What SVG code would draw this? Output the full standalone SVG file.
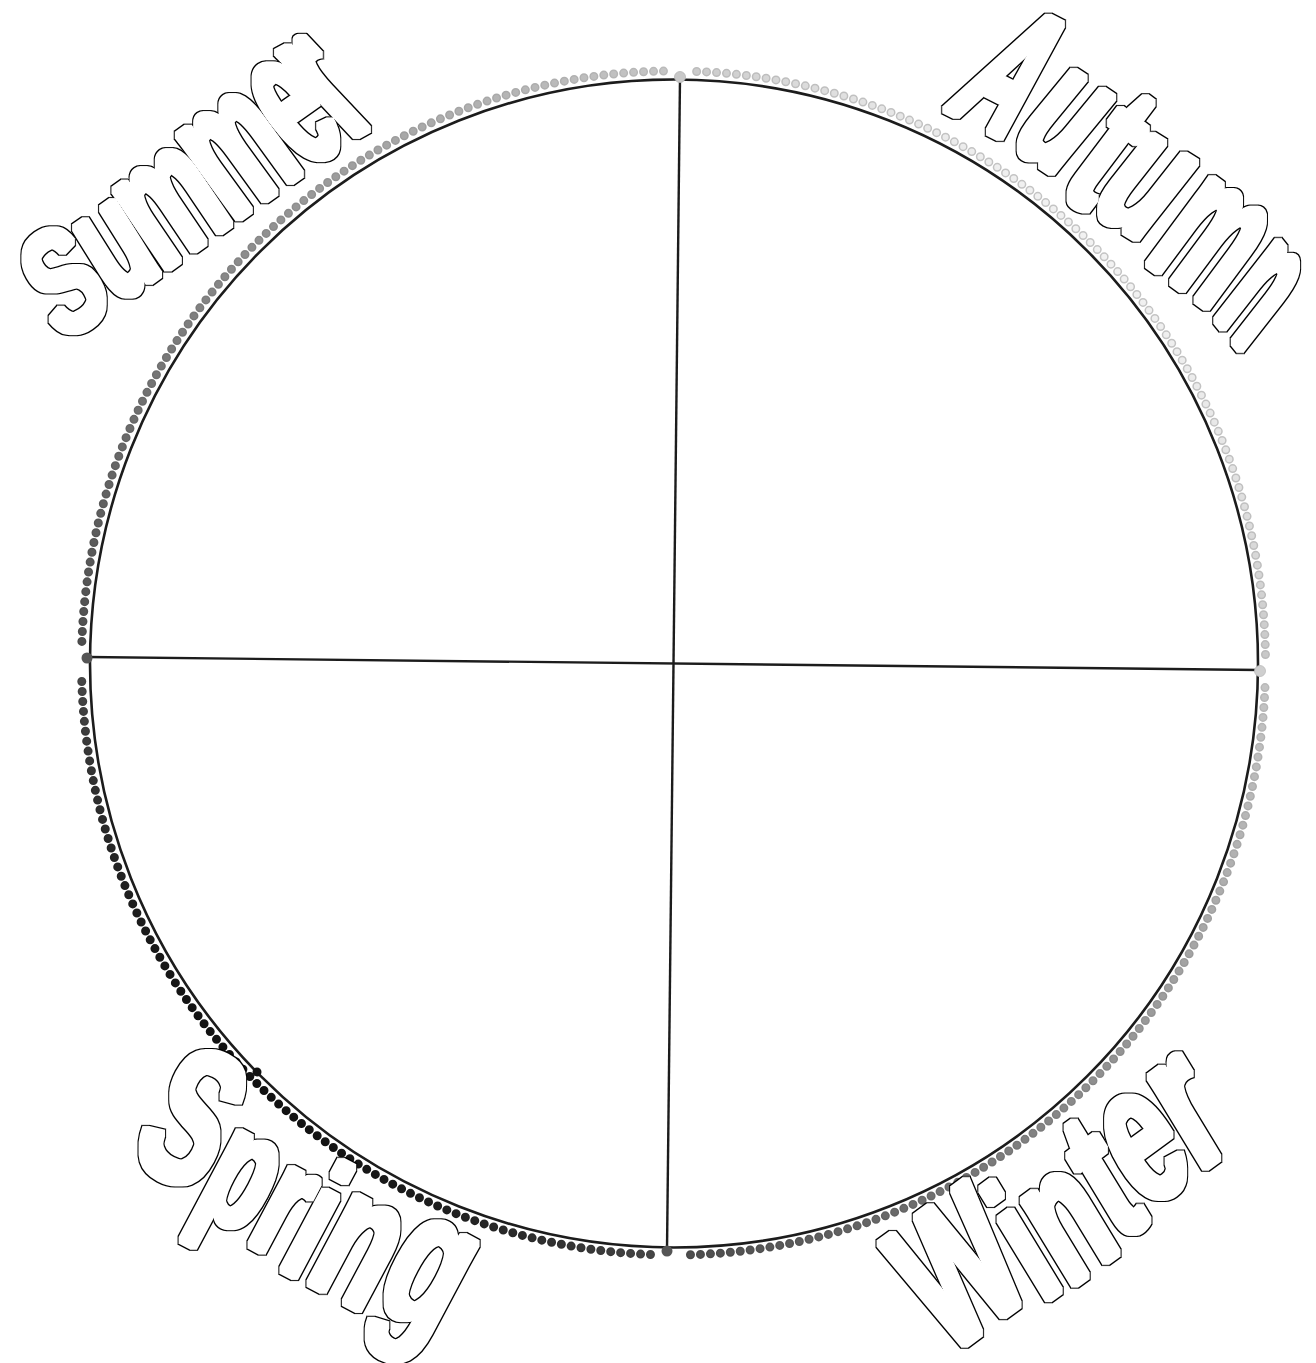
<svg xmlns="http://www.w3.org/2000/svg" xmlns:xlink="http://www.w3.org/1999/xlink" width="1316" height="1363" viewBox="0 0 1316 1363">
<style>
.ring{fill:#fff;stroke:#1c1c1c;stroke-width:2.6}
.axis{stroke:#1c1c1c;stroke-width:2.4;fill:none}
.edge{fill:none;stroke:url(#gEdge);stroke-width:9;stroke-linecap:round;stroke-dasharray:0 9.98}
.core{fill:none;stroke:url(#gFill);stroke-width:6;stroke-linecap:round;stroke-dasharray:0 9.98}
.word{filter:url(#fat)}
.word text{font-family:"Liberation Sans",Arial,sans-serif;font-weight:bold;font-size:100px;fill:#000}
</style>
<defs>
<linearGradient id="gFill" gradientUnits="userSpaceOnUse" x1="254" y1="1083" x2="1093" y2="243">
<stop offset="0" stop-color="#111"/><stop offset="0.15" stop-color="#4c4c4c"/><stop offset="0.5" stop-color="#8f8f8f"/><stop offset="0.85" stop-color="#c6c6c6"/><stop offset="1" stop-color="#f2f2f2"/>
</linearGradient>
<linearGradient id="gEdge" gradientUnits="userSpaceOnUse" x1="254" y1="1083" x2="1093" y2="243">
<stop offset="0" stop-color="#111"/><stop offset="0.15" stop-color="#474747"/><stop offset="0.5" stop-color="#878787"/><stop offset="0.85" stop-color="#bababa"/><stop offset="1" stop-color="#c4c4c4"/>
</linearGradient>
<filter id="fat" x="-10%" y="-10%" width="120%" height="120%" color-interpolation-filters="sRGB">
<feMorphology in="SourceAlpha" operator="dilate" radius="4" result="outer"/>
<feMorphology in="SourceAlpha" operator="dilate" radius="3" result="inner"/>
<feFlood flood-color="#000" result="black"/>
<feComposite in="black" in2="outer" operator="in" result="rim"/>
<feFlood flood-color="#fff" result="white"/>
<feComposite in="white" in2="inner" operator="in" result="body"/>
<feMerge><feMergeNode in="rim"/><feMergeNode in="body"/></feMerge>
</filter>
<path id="arcTR" d="M696.64,71.45 A592,592 0 0 1 1265.44,654.53"/>
<path id="arcBR" d="M1264.99,687.58 A592,592 0 0 1 683.52,1254.92"/>
<path id="arcBL" d="M650.47,1254.55 A592,592 0 0 1 81.61,674.47"/>
<path id="arcTL" d="M81.89,641.41 A592,592 0 0 1 663.58,71.08"/>
</defs>
<rect width="1316" height="1363" fill="#fff"/>
<g id="wheel">
<circle class="ring" cx="674" cy="663.5" r="584"/>
</g>
<g id="connectors">
<line class="axis" x1="680" y1="78" x2="667" y2="1250"/>
<line class="axis" x1="88" y1="657" x2="1259" y2="670"/>
<circle cx="680" cy="77" r="5.5" fill="#c8c8c8" stroke="#b5b5b5" stroke-width="0.8"/>
<circle cx="87" cy="658" r="5.5" fill="#555"/>
<circle cx="1260" cy="671" r="5.5" fill="#cfcfcf" stroke="#bbb" stroke-width="0.8"/>
<circle cx="667" cy="1251" r="5.5" fill="#555"/>
</g>
<g id="dots">
<use xlink:href="#arcTR" class="edge"/><use xlink:href="#arcBR" class="edge"/><use xlink:href="#arcBL" class="edge"/><use xlink:href="#arcTL" class="edge"/>
<use xlink:href="#arcTR" class="core"/><use xlink:href="#arcBR" class="core"/><use xlink:href="#arcBL" class="core"/><use xlink:href="#arcTL" class="core"/>
<circle cx="257" cy="1072" r="4.5" fill="#111"/>
</g>
<g id="summer" class="word" aria-label="Summer">
<text x="-3.5" transform="matrix(0.803 -0.568 0.740 1.282 65 341.7)">S</text>
<text x="-6.3" transform="matrix(0.792 -0.558 0.879 1.405 121.2 301.8)">u</text>
<text x="-6.3" transform="matrix(0.828 -0.586 1.012 1.501 167.2 269.3)">m</text>
<text x="-6.3" transform="matrix(0.828 -0.586 1.156 1.590 238.2 219)">m</text>
<text x="-3" transform="matrix(0.792 -0.560 1.270 1.624 309.1 168.8)">e</text>
<text x="-6.3" transform="matrix(0.887 -0.481 1.501 1.593 355.6 136.4)">r</text>
</g>
<g id="autumn" class="word" aria-label="Autumn">
<text x="0" transform="matrix(0.829 0.421 -1.204 1.513 942.5 109)">A</text>
<text x="-6.3" transform="matrix(0.833 0.556 -1.179 1.434 1011.4 146.3)">u</text>
<text x="-1.5" transform="matrix(0.892 0.669 -1.183 1.565 1058.2 191.4)">t</text>
<text x="-6.3" transform="matrix(0.935 0.579 -1.143 1.451 1091.4 211.2)">u</text>
<text x="-6.3" transform="matrix(0.779 0.571 -1.222 1.642 1147.2 264.4)">m</text>
<text x="-6.3" transform="matrix(0.504 0.631 -1.181 1.509 1215.7 320)">n</text>
</g>
<g id="winter" class="word" aria-label="Winter">
<text transform="translate(948,1357) rotate(-36.3) skewX(-5)" textLength="358" lengthAdjust="spacingAndGlyphs"><tspan font-size="192">W</tspan><tspan font-size="178" dy="13">i</tspan><tspan font-size="188" dy="4">n</tspan><tspan font-size="192" dy="-7">t</tspan><tspan font-size="198" dy="-10">e</tspan><tspan font-size="202">r</tspan></text>
</g>
<g id="spring" class="word" aria-label="Spring">
<text transform="translate(126,1158) rotate(28)" textLength="358" lengthAdjust="spacingAndGlyphs"><tspan font-size="195">S</tspan><tspan font-size="168" dy="12">p</tspan><tspan font-size="166" dy="7">r</tspan><tspan font-size="172" dy="7">i</tspan><tspan font-size="190" dy="-1">n</tspan><tspan font-size="196" dy="-11">g</tspan></text>
</g>
</svg>
